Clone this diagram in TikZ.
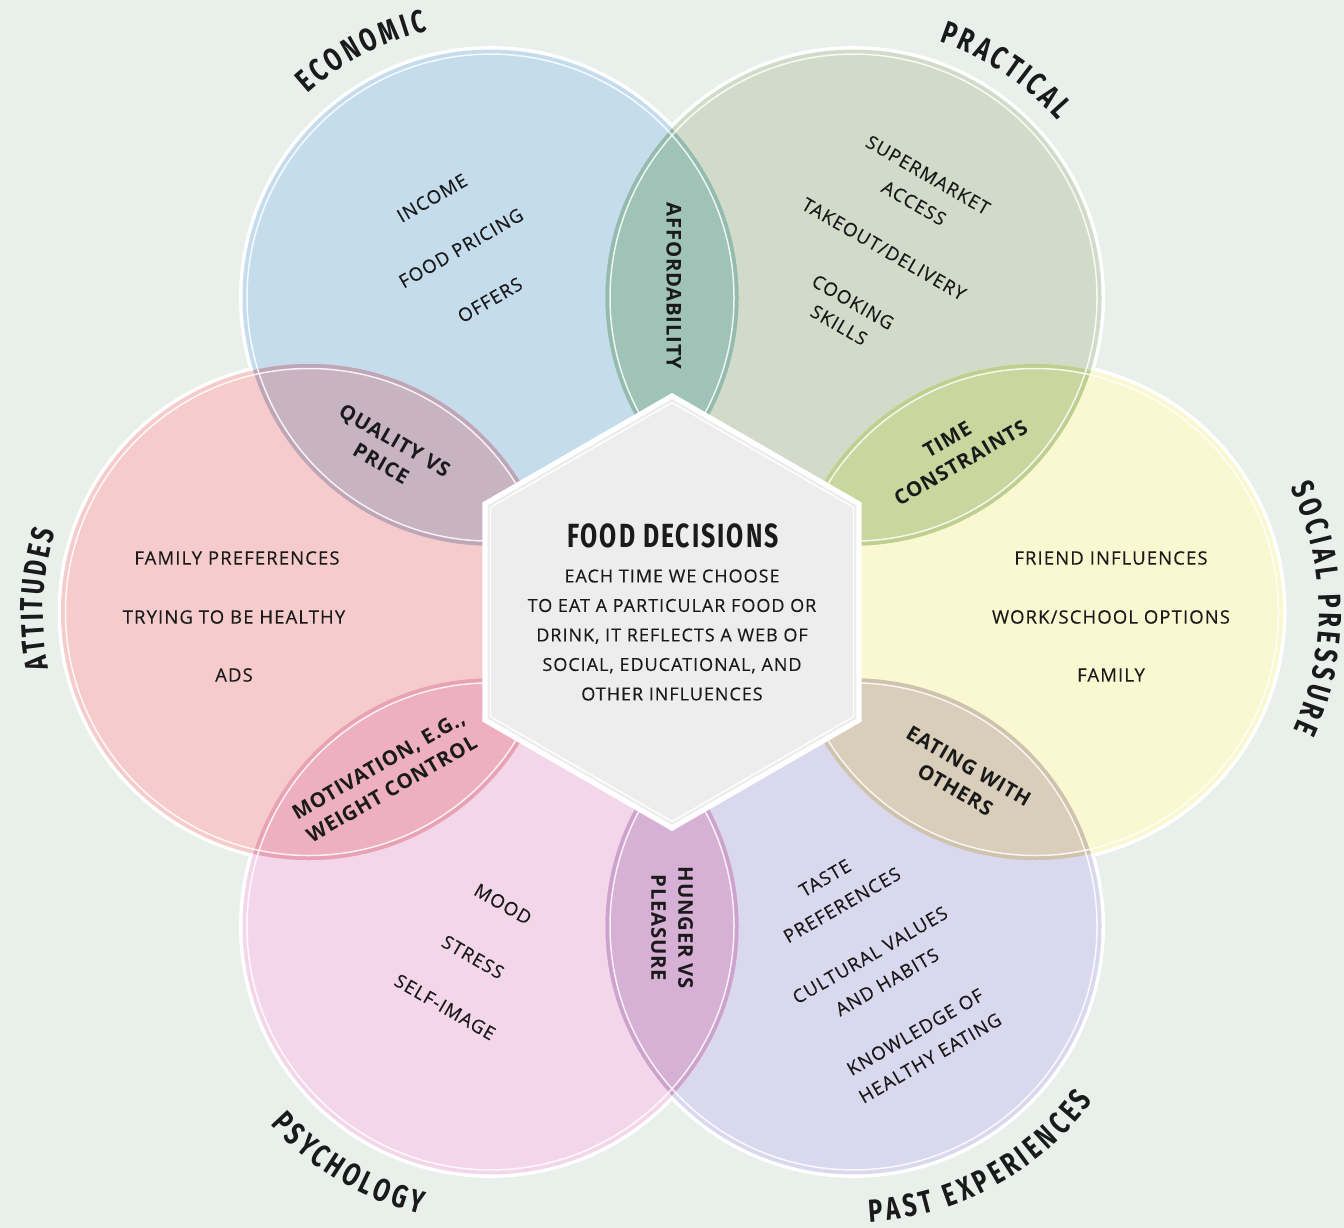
\documentclass[tikz,border=0pt]{standalone}
\usepackage{fontspec}
\setmainfont{Open Sans}
\newfontfamily\bodyfont[LetterSpace=6,FakeBold=0.3]{Open Sans}
\newfontfamily\descfont[LetterSpace=5.5,FakeBold=0.3]{Open Sans}
\newfontfamily\lensfont[LetterSpace=4]{Open Sans}
\newfontfamily\titlefont[FakeStretch=0.74]{Fira Sans}
\newfontfamily\hextitlefont[FakeStretch=0.74,LetterSpace=6]{Fira Sans}
\usetikzlibrary{decorations.text}

\definecolor{bg}{HTML}{E9F0EC}
\definecolor{ink}{HTML}{1A1A1A}
\definecolor{ecoC}{HTML}{C5DCEC}
\definecolor{pracC}{HTML}{D2DBC9}
\definecolor{socC}{HTML}{F9F8D1}
\definecolor{pastC}{HTML}{D9D8EE}
\definecolor{psyC}{HTML}{F3D6EA}
\definecolor{attC}{HTML}{F6CBCC}
\definecolor{affC}{HTML}{9FC3B7}\definecolor{affE}{HTML}{93BBAE}
\definecolor{timeC}{HTML}{C9D69E}\definecolor{timeE}{HTML}{BFCF8F}
\definecolor{eatC}{HTML}{D9CEBA}\definecolor{eatE}{HTML}{CFC3AC}
\definecolor{hunC}{HTML}{D7B0D6}\definecolor{hunE}{HTML}{CDA3CD}
\definecolor{motC}{HTML}{EEB0C0}\definecolor{motE}{HTML}{E8A2B4}
\definecolor{quaC}{HTML}{C8B3C2}\definecolor{quaE}{HTML}{BEA6B7}
\definecolor{hexC}{HTML}{EDEDED}

\newcommand\lensfill[4]{%
  \begin{scope}
    \clip (#1) circle[radius=248];
    \clip (#2) circle[radius=248];
    \fill[#3] (#1) circle[radius=250];
    \draw[#4, line width=10pt] (#1) circle[radius=248] (#2) circle[radius=248];
  \end{scope}}

\tikzset{
  body/.style={font=\bodyfont\fontsize{18.5}{24}\selectfont, text=ink, inner sep=0pt},
  lens/.style={font=\lensfont\bfseries\fontsize{20.3}{27}\selectfont, text=ink, inner sep=0pt, align=center},
  desc/.style={font=\descfont\fontsize{18}{29.5}\selectfont, text=ink, inner sep=0pt, align=center},
  arctitle/.style={decorate, decoration={text along path, text align=fit to path, text color=ink,
      text={|\titlefont\bfseries\fontsize{32}{32}\selectfont|#1}}},
}

\begin{document}
\begin{tikzpicture}[x=1pt,y=-1pt]
\useasboundingbox (0,0) rectangle (1344,1228);
\fill[bg] (0,0) rectangle (1344,1228);

\coordinate (E) at (490.5,297.6);
\coordinate (P) at (853.5,297.6);
\coordinate (S) at (1035,612);
\coordinate (X) at (853.5,926.4);
\coordinate (Y) at (490.5,926.4);
\coordinate (A) at (309,612);
\coordinate (C) at (672,612);

% white halos
\foreach \c in {E,P,S,X,Y,A} \fill[white] (\c) circle[radius=251.5];
% circle fills
\fill[ecoC] (E) circle[radius=248];
\fill[pracC] (P) circle[radius=248];
\fill[socC] (S) circle[radius=248];
\fill[pastC] (X) circle[radius=248];
\fill[psyC] (Y) circle[radius=248];
\fill[attC] (A) circle[radius=248];
% lenses
\lensfill{E}{P}{affC}{affE}
\lensfill{P}{S}{timeC}{timeE}
\lensfill{S}{X}{eatC}{eatE}
\lensfill{X}{Y}{hunC}{hunE}
\lensfill{Y}{A}{motC}{motE}
\lensfill{A}{E}{quaC}{quaE}
% thin inner lines
\foreach \c in {E,P,S,X,Y,A} \draw[white, opacity=0.85, line width=1.5pt] (\c) circle[radius=243.5];

% hexagon
\fill[white] (C) +(90:219) -- +(30:219) -- +(-30:219) -- +(-90:219) -- +(-150:219) -- +(150:219) -- cycle;
\fill[hexC] (C) +(90:213) -- +(30:213) -- +(-30:213) -- +(-90:213) -- +(-150:213) -- +(150:213) -- cycle;
\draw[white, line width=1.3pt] (C) +(90:209.5) -- +(30:209.5) -- +(-30:209.5) -- +(-90:209.5) -- +(-150:209.5) -- +(150:209.5) -- cycle;

\node[font=\hextitlefont\bfseries\fontsize{33.5}{33.5}\selectfont, text=ink, inner sep=0pt] (fd) at (673,536) {FOOD DECISIONS};
\node[desc] (fdtext) at (672,635) {EACH TIME WE CHOOSE\\TO EAT A PARTICULAR FOOD OR\\DRINK, IT REFLECTS A WEB OF\\SOCIAL, EDUCATIONAL, AND\\OTHER INFLUENCES};

% arc titles
\path[arctitle=ECONOMIC] (E) ++(-132:274) arc[start angle=-132, end angle=-103.3, radius=274];
\path[arctitle=PRACTICAL] (P) ++(-71.5:270) arc[start angle=-71.5, end angle=-41, radius=270];
\path[arctitle=SOCIAL PRESSURE] (S) ++(-26:284) arc[start angle=-26, end angle=24.5, radius=284];
\path[arctitle=PAST EXPERIENCES] (X) ++(87:296) arc[start angle=87, end angle=36, radius=296];
\path[arctitle=PSYCHOLOGY] (Y) ++(138:296) arc[start angle=138, end angle=103.6, radius=296];
\path[arctitle=ATTITUDES] (A) ++(-192.2:266) arc[start angle=-192.2, end angle=-162.5, radius=266];

% economic
\node[body, rotate=30] (e1) at (432,198) {INCOME};
\node[body, rotate=30] (e2) at (461,248) {FOOD PRICING};
\node[body, rotate=30] (e3) at (490,300) {OFFERS};
% practical
\node[body, rotate=-30] (p1) at (928,175) {SUPERMARKET};
\node[body, rotate=-30] (p2) at (914,203) {ACCESS};
\node[body, rotate=-30] (p3) at (884,249) {TAKEOUT/DELIVERY};
\node[body, rotate=-30] (p4) at (853,302) {COOKING};
\node[body, rotate=-30] (p5) at (839,325) {SKILLS};
% social
\node[body] (s1) at (1111,558) {FRIEND INFLUENCES};
\node[body] (s2) at (1111,617) {WORK/SCHOOL OPTIONS};
\node[body] (s3) at (1111,675) {FAMILY};
% attitudes
\node[body] (a1) at (237,558) {FAMILY PREFERENCES};
\node[body] (a2) at (234,617) {TRYING TO BE HEALTHY};
\node[body] (a3) at (234,675) {ADS};
% psychology
\node[body, rotate=-30] (y1) at (503,904) {MOOD};
\node[body, rotate=-30] (y2) at (473,957) {STRESS};
\node[body, rotate=-30] (y3) at (445,1007) {SELF-IMAGE};
% past
\node[body, rotate=30] (x1) at (825,878) {TASTE};
\node[body, rotate=30] (x2) at (842,905) {PREFERENCES};
\node[body, rotate=30] (x3) at (870,955) {CULTURAL VALUES};
\node[body, rotate=30] (x4) at (887,982) {AND HABITS};
\node[body, rotate=30] (x5) at (915,1032) {KNOWLEDGE OF};
\node[body, rotate=30] (x6) at (930,1058) {HEALTHY EATING};

% lens labels
\node[lens, rotate=-90] (l1) at (674,286) {AFFORDABILITY};
\node[lens, rotate=-30] (l2) at (388,452) {QUALITY VS\\PRICE};
\node[lens, rotate=30] (l3) at (954,451) {TIME\\CONSTRAINTS};
\node[lens, rotate=30] (l4) at (385,777) {MOTIVATION, E.G.,\\WEIGHT CONTROL};
\node[lens, rotate=-30] (l5) at (962,778) {EATING WITH\\OTHERS};
\node[lens, rotate=-90] (l6) at (672,928) {HUNGER VS\\PLEASURE};
\end{tikzpicture}
\end{document}
